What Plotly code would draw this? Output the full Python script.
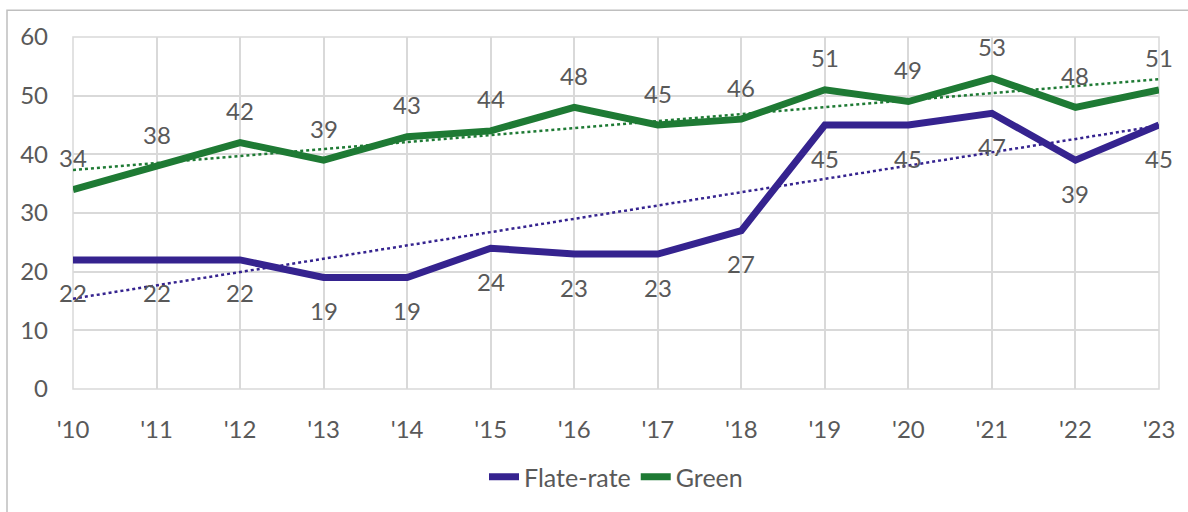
import numpy as np
import plotly.graph_objects as go

years = ["'10", "'11", "'12", "'13", "'14", "'15", "'16", "'17", "'18", "'19", "'20", "'21", "'22", "'23"]
flate_rate = [22, 22, 22, 19, 19, 24, 23, 23, 27, 45, 45, 47, 39, 45]
green = [34, 38, 42, 39, 43, 44, 48, 45, 46, 51, 49, 53, 48, 51]

PURPLE = "#35238F"
GREEN = "#1E7A34"
TEXT = "#595959"
GRID = "#D9D9D9"
FONT = "Lato, 'Open Sans', sans-serif"
SIZE = 24

x = np.arange(len(years))

fig = go.Figure()

# linear trend lines for each series
for vals, color in ((flate_rate, PURPLE), (green, GREEN)):
    slope, intercept = np.polyfit(x, vals, 1)
    fig.add_trace(go.Scatter(
        x=x, y=slope * x + intercept, mode="lines",
        line=dict(color=color, width=2.5, dash="dot"),
        showlegend=False, hoverinfo="skip",
    ))

fig.add_trace(go.Scatter(
    x=x, y=flate_rate, mode="lines", name="Flate-rate",
    line=dict(color=PURPLE, width=7),
))
fig.add_trace(go.Scatter(
    x=x, y=green, mode="lines", name="Green",
    line=dict(color=GREEN, width=7),
))

# value labels: Green above the line, Flate-rate below it
annotations = []
for i, v in enumerate(green):
    annotations.append(dict(x=x[i], y=v, text=str(v), showarrow=False,
                            yshift=32, font=dict(family=FONT, size=SIZE, color=TEXT)))
for i, v in enumerate(flate_rate):
    annotations.append(dict(x=x[i], y=v, text=str(v), showarrow=False,
                            yshift=-33, font=dict(family=FONT, size=SIZE, color=TEXT)))

fig.update_layout(
    width=1188, height=512,
    margin=dict(l=73, r=29, t=37, b=119),
    paper_bgcolor="white", plot_bgcolor="white",
    font=dict(family=FONT, size=SIZE, color=TEXT),
    annotations=annotations,
    showlegend=True,
    legend=dict(orientation="h", x=0.5, xanchor="center", y=-0.25, yanchor="middle",
                font=dict(family=FONT, size=25, color=TEXT),
                traceorder="normal"),
    shapes=[dict(type="rect", xref="paper", yref="paper",
                 x0=-66 / 1086, x1=1.2, y0=-1, y1=1 + 27 / 356,
                 line=dict(color="#BFBFBF", width=1.5), layer="below")],
)

fig.update_xaxes(
    range=[0, len(years) - 1], tickvals=x, ticktext=years,
    showgrid=True, gridcolor=GRID, gridwidth=1.5,
    zeroline=False, showline=False, ticks="", ticklabelstandoff=24,
    tickfont=dict(family=FONT, size=SIZE, color=TEXT),
)
fig.update_yaxes(
    range=[0, 60], dtick=10, showgrid=True, gridcolor=GRID, gridwidth=1.5,
    zeroline=False, showline=False, ticks="", ticklabelstandoff=24,
    tickfont=dict(family=FONT, size=SIZE, color=TEXT),
)

# close the plot area on every side with gridline-coloured edges
fig.add_shape(type="rect", xref="paper", yref="paper", x0=0, x1=1, y0=0, y1=1,
              line=dict(color=GRID, width=1.5), layer="below")

fig.write_html("out.html")
